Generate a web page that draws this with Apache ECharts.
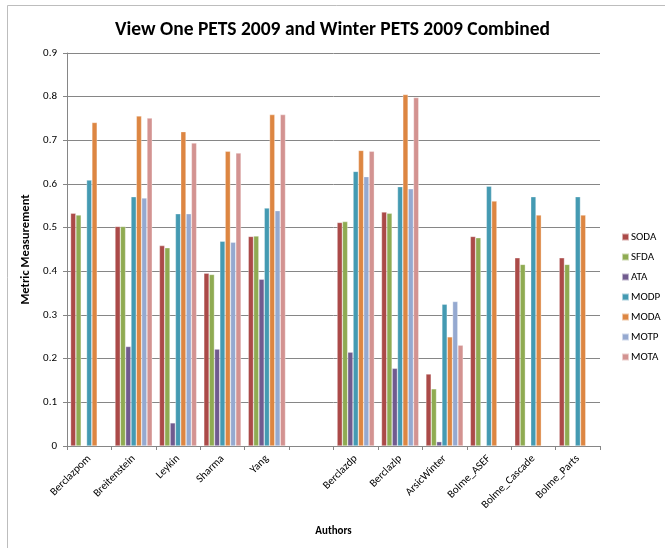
<!DOCTYPE html>
<html>
<head>
<meta charset="utf-8">
<script src="https://cdn.jsdelivr.net/npm/echarts@6/dist/echarts.min.js"></script>
<style>
  html, body { margin: 0; padding: 0; background: #fff; }
  #chart { width: 665px; height: 548px; }
</style>
</head>
<body>
<div id="chart"></div>
<script>
// Tracker names on the category axis (the blank slot separates the two datasets)
const authors = ['Berclazpom', 'Breitenstein', 'Leykin', 'Sharma', 'Yang', '',
  'Berclazdp', 'Berclazlp', 'ArsicWinter', 'Bolme_ASEF', 'Bolme_Cascade', 'Bolme_Parts'];

// Metric values per tracker (null = not reported)
const SODA = [0.533, 0.503, 0.459, 0.396, 0.480, null, 0.512, 0.536, 0.165, 0.480, 0.431, 0.431];
const SFDA = [0.529, 0.503, 0.454, 0.393, 0.481, null, 0.514, 0.533, 0.131, 0.477, 0.416, 0.416];
const ATA  = [null, 0.228, 0.053, 0.222, 0.382, null, 0.215, 0.178, 0.010, null, null, null];
const MODP = [0.609, 0.571, 0.532, 0.469, 0.545, null, 0.629, 0.594, 0.325, 0.595, 0.571, 0.571];
const MODA = [0.741, 0.756, 0.720, 0.675, 0.759, null, 0.677, 0.805, 0.250, 0.561, 0.529, 0.529];
const MOTP = [null, 0.568, 0.532, 0.467, 0.539, null, 0.617, 0.589, 0.331, null, null, null];
const MOTA = [null, 0.751, 0.694, 0.671, 0.759, null, 0.675, 0.798, 0.231, null, null, null];

const yTicks = [0, 0.1, 0.2, 0.3, 0.4, 0.5, 0.6, 0.7, 0.8, 0.9];

const metrics = [
  { name: 'SODA', data: SODA, color: '#AB4A48' },
  { name: 'SFDA', data: SFDA, color: '#8FAB52' },
  { name: 'ATA',  data: ATA,  color: '#705B8F' },
  { name: 'MODP', data: MODP, color: '#449AB2' },
  { name: 'MODA', data: MODA, color: '#DD8642' },
  { name: 'MOTP', data: MOTP, color: '#95A9D0' },
  { name: 'MOTA', data: MOTA, color: '#D39391' }
];

const font = 'Carlito, "Open Sans", "Liberation Sans", sans-serif';

const chart = echarts.init(document.getElementById('chart'), null, { renderer: 'canvas' });

chart.setOption({
  animation: false,
  backgroundColor: '#fff',
  textStyle: { fontFamily: font },
  title: {
    text: 'View One PETS 2009 and Winter PETS 2009 Combined',
    left: 'center',
    top: 15,
    textStyle: { fontFamily: font, fontSize: 19.5, fontWeight: 'bold', color: '#000' }
  },
  graphic: [{
    type: 'rect',
    shape: { x: 7.5, y: 5.5, width: 700, height: 600 },
    style: { fill: 'none', stroke: '#BDBDBD', lineWidth: 1 },
    silent: true
  }],
  legend: {
    orient: 'vertical',
    left: 616,
    top: 225,
    itemWidth: 7,
    itemHeight: 7,
    itemGap: 6,
    icon: 'rect',
    textStyle: { fontFamily: font, fontSize: 11, color: '#000', lineHeight: 14, padding: [0, 0, 0, -3] },
    data: metrics.map(m => m.name)
  },
  grid: { left: 67, top: 53, right: 65, bottom: 102, containLabel: false },
  xAxis: {
    type: 'category',
    data: authors,
    name: 'Authors',
    nameLocation: 'middle',
    nameGap: 80,
    nameTextStyle: { fontFamily: font, fontSize: 11, fontWeight: 'bold', color: '#000' },
    axisLine: { lineStyle: { color: '#868686' } },
    axisTick: { show: true, length: 4, alignWithLabel: false, lineStyle: { color: '#868686' } },
    axisLabel: { rotate: 45, fontSize: 11, color: '#000', margin: 11, interval: 0, fontFamily: font }
  },
  yAxis: {
    type: 'value',
    min: 0,
    max: 0.9,
    interval: 0.1,
    name: 'Metric Measurement',
    nameLocation: 'middle',
    nameGap: 29,
    nameTextStyle: { fontFamily: font, fontSize: 12.5, fontWeight: 'bold', color: '#000' },
    axisLine: { show: true, lineStyle: { color: '#868686' } },
    axisTick: { show: true, length: 4, lineStyle: { color: '#868686' } },
    axisLabel: {
      fontSize: 11, color: '#000', margin: 10, fontFamily: font,
      formatter: v => {
        const t = yTicks.find(x => Math.abs(x - v) < 1e-9);
        return t === 0 ? '0' : String(t !== undefined ? t : v);
      }
    },
    splitLine: { show: true, lineStyle: { color: '#868686', width: 1 } }
  },
  series: metrics.map(m => ({
    name: m.name,
    type: 'bar',
    data: m.data,
    barGap: '0%',
    barCategoryGap: '16%',
    itemStyle: { color: m.color, borderColor: 'rgba(255,255,255,0.55)', borderWidth: 0.6 }
  }))
});
</script>
</body>
</html>
